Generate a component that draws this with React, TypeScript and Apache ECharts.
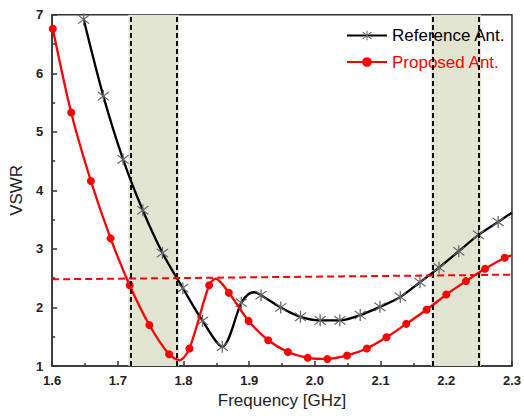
import React, { useEffect, useRef } from "react";
import * as echarts from "echarts";

// Reference antenna: marker positions (GHz, VSWR)
const refMarkerFreq = [1.648, 1.678, 1.708, 1.738, 1.768, 1.799, 1.829, 1.859, 1.888, 1.918, 1.948, 1.978, 2.008, 2.038, 2.069, 2.099, 2.13, 2.16, 2.189, 2.219, 2.249, 2.279];
const refMarkerVswr = [6.92, 5.61, 4.53, 3.66, 2.93, 2.33, 1.77, 1.33, 2.08, 2.21, 2.0, 1.84, 1.78, 1.78, 1.87, 2.01, 2.18, 2.43, 2.68, 2.96, 3.24, 3.46];
// Reference antenna: extra curve points between markers
const refCurveFreq = [1.899, 1.908, 2.3];
const refCurveVswr = [2.23, 2.26, 3.62];

// Proposed antenna: marker positions
const propMarkerFreq = [1.601, 1.629, 1.659, 1.689, 1.718, 1.748, 1.778, 1.809, 1.839, 1.869, 1.899, 1.929, 1.959, 1.989, 2.019, 2.049, 2.079, 2.109, 2.139, 2.17, 2.2, 2.23, 2.259, 2.289];
const propMarkerVswr = [6.76, 5.33, 4.16, 3.18, 2.38, 1.7, 1.2, 1.3, 2.38, 2.25, 1.77, 1.44, 1.24, 1.14, 1.12, 1.18, 1.3, 1.49, 1.72, 1.96, 2.22, 2.45, 2.66, 2.85];
// Proposed antenna: extra curve points between markers
const propCurveFreq = [1.794, 1.849, 2.3];
const propCurveVswr = [1.1, 2.49, 2.89];

// Operating bands (GHz)
const bandStart = [1.716, 2.177];
const bandEnd = [1.793, 2.253];

// VSWR threshold line end points
const thresholdFreq = [1.6, 2.3];
const thresholdVswr = [2.48, 2.56];

const xTicks = ["1.6", "1.7", "1.8", "1.9", "2.0", "2.1", "2.2", "2.3"];
const seriesNames = ["Reference Ant.", "Proposed Ant."];

const asterisk =
  "path://M9.2 0 L10.8 0 L10.8 20 L9.2 20 Z M2.4 3.6 L3.6 2.4 L17.6 16.4 L16.4 17.6 Z M16.4 2.4 L17.6 3.6 L3.6 17.6 L2.4 16.4 Z";

function buildData(mf: number[], mv: number[], cf: number[], cv: number[]) {
  const pts: any[] = [];
  mf.forEach((f, i) => pts.push({ value: [f, mv[i]] }));
  cf.forEach((f, i) => pts.push({ value: [f, cv[i]], symbol: "none" }));
  pts.sort((a, b) => a.value[0] - b.value[0]);
  return pts;
}

export default function App() {
  const ref = useRef<HTMLDivElement>(null);

  useEffect(() => {
    if (!ref.current) return;
    const chart = echarts.init(ref.current, null, { renderer: "svg" });
    const font = "Arial, 'Liberation Sans', sans-serif";
    const axisColor = "#333";

    const bandAreas = bandStart.map((s, i) => [{ xAxis: s }, { xAxis: bandEnd[i] }]);
    const bandLines: any[] = [];
    bandStart.forEach((s, i) => {
      bandLines.push({ xAxis: s });
      bandLines.push({ xAxis: bandEnd[i] });
    });

    chart.setOption({
      animation: false,
      textStyle: { fontFamily: font },
      grid: {
        left: 48.7,
        right: 9,
        top: 14.7,
        bottom: 53,
        show: true,
        borderColor: axisColor,
        borderWidth: 1.5,
      },
      legend: {
        orient: "vertical",
        left: 346,
        top: 27,
        itemWidth: 40,
        itemHeight: 12,
        itemGap: 9.5,
        padding: 0,
        textStyle: { fontSize: 17, fontFamily: font },
        data: [
          { name: seriesNames[0], textStyle: { color: "#000" } },
          { name: seriesNames[1], textStyle: { color: "#f00" } },
        ],
      },
      xAxis: {
        type: "value",
        min: 1.6,
        max: 2.3,
        interval: 0.1,
        name: "Frequency [GHz]",
        nameLocation: "middle",
        nameGap: 26,
        nameTextStyle: { fontSize: 17, color: "#222" },
        axisLine: { lineStyle: { color: axisColor, width: 1.5 } },
        axisTick: { inside: true, length: 5, lineStyle: { color: axisColor, width: 1.5 } },
        minorTick: { show: true, splitNumber: 2, length: 3, lineStyle: { color: axisColor, width: 1.5 } },
        splitLine: { show: false },
        axisLabel: {
          fontSize: 13,
          fontWeight: "bold",
          color: "#222",
          margin: 8,
          formatter: (v: number) => xTicks[Math.round((v - 1.6) * 10)] ?? "",
        },
      },
      yAxis: {
        type: "value",
        min: 1,
        max: 7,
        interval: 1,
        name: "VSWR",
        nameLocation: "middle",
        nameGap: 25,
        nameTextStyle: { fontSize: 17, color: "#222" },
        axisLine: { show: true, lineStyle: { color: axisColor, width: 1.5 } },
        axisTick: { inside: true, length: 5, lineStyle: { color: axisColor, width: 1.5 } },
        minorTick: { show: true, splitNumber: 2, length: 3, lineStyle: { color: axisColor, width: 1.5 } },
        splitLine: { show: false },
        axisLabel: { fontSize: 13, fontWeight: "bold", color: "#222", margin: 9 },
      },
      series: [
        {
          // bands, band edges and the VSWR threshold
          name: "bands",
          type: "line",
          data: [],
          z: 1,
          silent: true,
          markArea: {
            silent: true,
            itemStyle: { color: "#e2e4d2" },
            data: bandAreas,
          },
          markLine: {
            silent: true,
            symbol: "none",
            label: { show: false },
            lineStyle: { color: "#000", type: [5, 3], width: 2 },
            data: [
              ...bandLines,
              [
                {
                  coord: [thresholdFreq[0], thresholdVswr[0]],
                  lineStyle: { color: "#f00", type: [7, 4], width: 2 },
                },
                { coord: [thresholdFreq[1], thresholdVswr[1]] },
              ],
            ],
          },
        },
        {
          name: seriesNames[0],
          type: "line",
          z: 3,
          smooth: 0.3,
          data: buildData(refMarkerFreq, refMarkerVswr, refCurveFreq, refCurveVswr),
          symbol: asterisk,
          symbolSize: 12,
          showAllSymbol: true,
          itemStyle: { color: "#666" },
          lineStyle: { color: "#000", width: 2.3 },
        },
        {
          name: seriesNames[1],
          type: "line",
          z: 4,
          smooth: 0.3,
          data: buildData(propMarkerFreq, propMarkerVswr, propCurveFreq, propCurveVswr),
          symbol: "circle",
          symbolSize: 8,
          showAllSymbol: true,
          itemStyle: { color: "#f00" },
          lineStyle: { color: "#f00", width: 2.3 },
        },
      ],
    });

    return () => chart.dispose();
  }, []);

  return (
    <div
      ref={ref}
      style={{ position: "absolute", left: 0, top: 0, width: 524, height: 419 }}
    />
  );
}
